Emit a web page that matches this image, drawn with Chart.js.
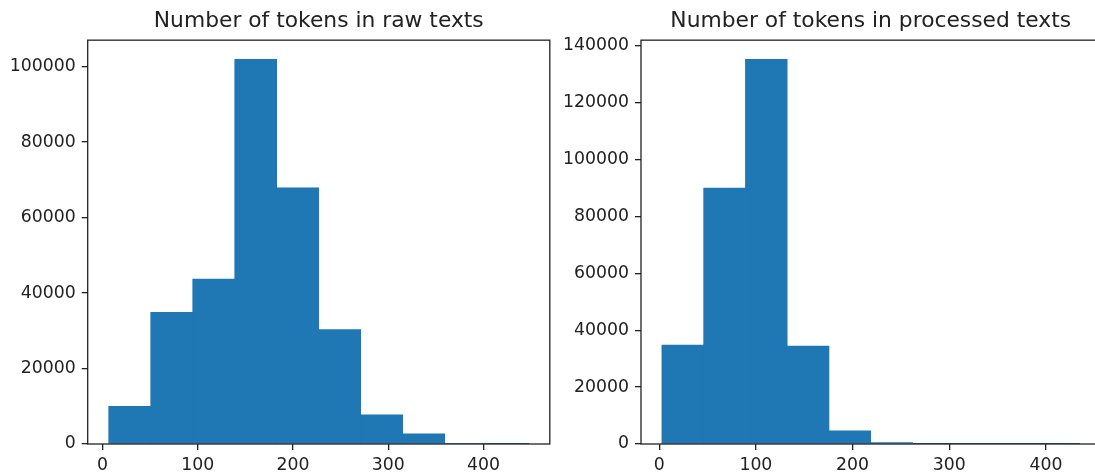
<!DOCTYPE html>
<html>
<head>
<meta charset="utf-8">
<script src="https://cdn.jsdelivr.net/npm/chart.js@4.4.1/dist/chart.umd.min.js"></script>
<style>
  html, body { margin: 0; padding: 0; background: #fff; overflow: hidden; width: 1095px; height: 476px; }
  .panel { position: absolute; top: 0; height: 476px; width: 560px; }
  #rawBox { left: 0; }
  #procBox { left: 560px; }
</style>
</head>
<body>
<div id="rawBox" class="panel"><canvas id="raw" width="560" height="476"></canvas></div>
<div id="procBox" class="panel"><canvas id="proc" width="560" height="476"></canvas></div>
<script>
// Histogram bins (token counts) and the number of texts in each bin
const rawEdges  = [6.5, 50.6, 94.7, 138.8, 182.9, 227.0, 271.1, 315.2, 359.3, 403.4, 447.5];
const rawCounts = [10000, 34900, 43700, 101900, 67900, 30300, 7700, 2700, 150, 15];

const procEdges  = [2.8, 46.0, 89.2, 132.4, 175.6, 218.8, 262.0, 305.2, 348.4, 391.6, 434.8];
const procCounts = [34800, 90000, 135200, 34400, 4600, 500, 50, 10, 3, 1];

const xTicks     = [0, 100, 200, 300, 400];
const rawYTicks  = [0, 20000, 40000, 60000, 80000, 100000];
const procYTicks = [0, 20000, 40000, 60000, 80000, 100000, 120000, 140000];

const INK = '#222';
const FONT = 'DejaVu Sans';

// Outline the whole plotting area (all four spines), on top of the bars
const frame = {
  id: 'frame',
  afterDatasetsDraw(chart) {
    const { ctx, chartArea: a } = chart;
    ctx.save();
    ctx.strokeStyle = INK;
    ctx.lineWidth = 1.3;
    ctx.strokeRect(a.left, a.top, a.right - a.left, a.bottom - a.top);
    ctx.restore();
  }
};

function histogram(canvasId, title, edges, counts, yTicks, yAxisWidth, padRight) {
  const span = edges[edges.length - 1] - edges[0];
  const points = counts.map((c, i) => ({ x: (edges[i] + edges[i + 1]) / 2, y: c }));
  const tickFont = { family: FONT, size: 17.3 };

  return new Chart(document.getElementById(canvasId), {
    type: 'bar',
    data: {
      datasets: [{
        data: points,
        backgroundColor: '#1f77b4',
        borderWidth: 0,
        barPercentage: 1,
        categoryPercentage: 1
      }]
    },
    options: {
      responsive: false,
      animation: false,
      devicePixelRatio: 1,
      layout: { padding: { left: 0, right: padRight, top: 0, bottom: 0 } },
      plugins: {
        legend: { display: false },
        tooltip: { enabled: false },
        title: {
          display: true,
          text: title,
          fullSize: false,
          color: INK,
          font: { family: FONT, size: 21.8, weight: 'normal', lineHeight: 1.2 },
          padding: { top: 8.5, bottom: 5.5 }
        }
      },
      scales: {
        x: {
          type: 'linear',
          offset: false,
          min: edges[0] - 0.05 * span,
          max: edges[edges.length - 1] + 0.05 * span,
          afterBuildTicks: s => { s.ticks = xTicks.map(v => ({ value: v })); },
          afterFit: s => { s.height = 32; },
          border: { display: false },
          grid: { offset: false, drawOnChartArea: false, drawTicks: true, tickLength: 6, color: INK, lineWidth: 1.3 },
          ticks: { color: INK, font: tickFont, padding: 5, maxRotation: 0, autoSkip: false, callback: v => String(v) }
        },
        y: {
          type: 'linear',
          min: 0,
          max: 1.05 * Math.max(...counts),
          afterBuildTicks: s => { s.ticks = yTicks.map(v => ({ value: v })); },
          afterFit: s => { s.width = yAxisWidth; },
          border: { display: false },
          grid: { offset: false, drawOnChartArea: false, drawTicks: true, tickLength: 6, color: INK, lineWidth: 1.3 },
          ticks: { color: INK, font: tickFont, padding: 6, autoSkip: false, callback: v => String(v) }
        }
      }
    },
    plugins: [frame]
  });
}

histogram('raw', 'Number of tokens in raw texts', rawEdges, rawCounts, rawYTicks, 87.7, 10.2);
histogram('proc', 'Number of tokens in processed texts', procEdges, procCounts, procYTicks, 81, 19.5);
</script>
</body>
</html>
